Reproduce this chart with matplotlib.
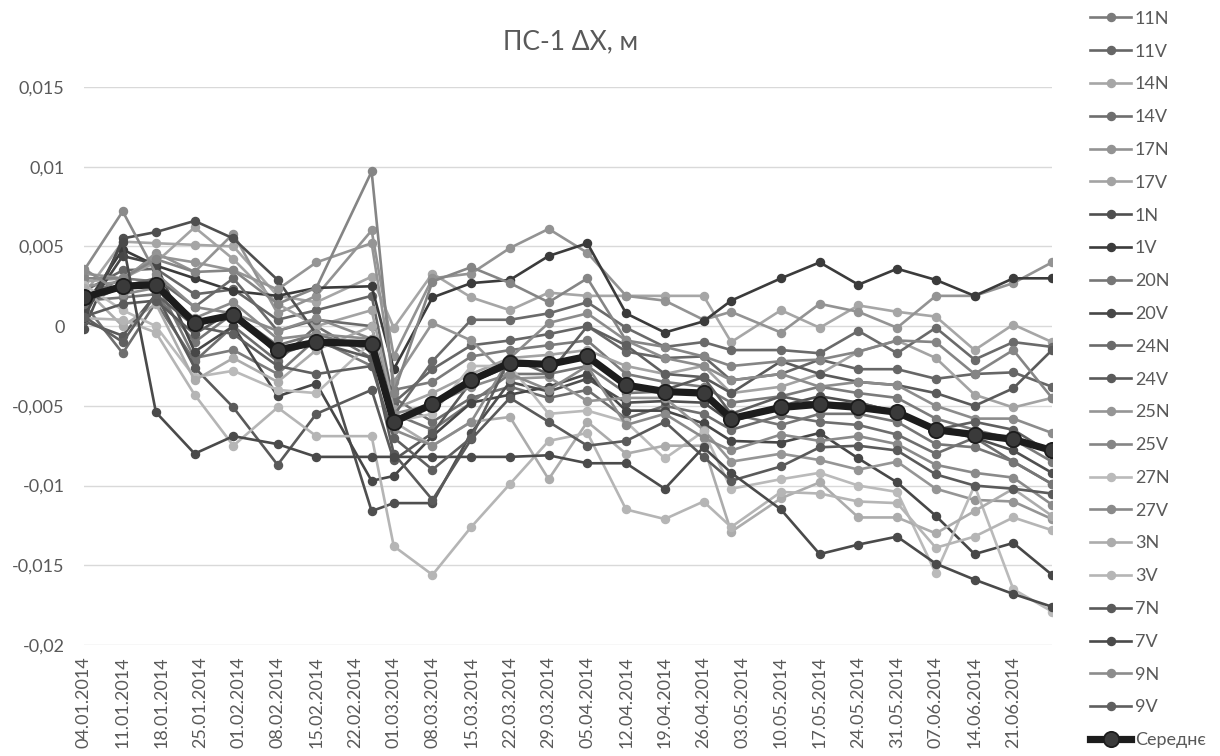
import matplotlib
matplotlib.use("Agg")
import matplotlib.pyplot as plt
import pandas as pd

# measurement dates (points) and weekly axis labels
dates = ["04.01.2014", "11.01.2014", "17.01.2014", "24.01.2014", "31.01.2014",
         "08.02.2014", "15.02.2014", "25.02.2014", "01.03.2014", "08.03.2014",
         "15.03.2014", "22.03.2014", "29.03.2014", "05.04.2014", "12.04.2014",
         "19.04.2014", "26.04.2014", "01.05.2014", "10.05.2014", "17.05.2014",
         "24.05.2014", "31.05.2014", "07.06.2014", "14.06.2014", "21.06.2014",
         "28.06.2014"]
tick_labels = ["04.01.2014", "11.01.2014", "18.01.2014", "25.01.2014", "01.02.2014",
               "08.02.2014", "15.02.2014", "22.02.2014", "01.03.2014", "08.03.2014",
               "15.03.2014", "22.03.2014", "29.03.2014", "05.04.2014", "12.04.2014",
               "19.04.2014", "26.04.2014", "03.05.2014", "10.05.2014", "17.05.2014",
               "24.05.2014", "31.05.2014", "07.06.2014", "14.06.2014", "21.06.2014"]

s_11N = [0.0018, 0.0030, 0.0028, -0.0020, -0.0015, -0.0030, -0.0008, -0.0025, -0.0040, -0.0035, -0.0019, -0.0015, -0.0012,
         -0.0009, -0.0030, -0.0035, -0.0038, -0.0048, -0.0044, -0.0038, -0.0042, -0.0045, -0.0058, -0.0065, -0.0071, -0.0085]
s_11V = [0.0022, 0.0035, 0.0036, 0.0020, 0.0023, 0.0004, 0.0010, 0.0019, -0.0048, -0.0027, -0.0012, -0.0009, -0.0005,
         0.0000, -0.0016, -0.0020, -0.0019, -0.0034, -0.0030, -0.0021, -0.0027, -0.0027, -0.0033, -0.0030, -0.0029, -0.0038]
s_14N = [0.0020, 0.0053, 0.0052, 0.0051, 0.0050, 0.0019, 0.0015, 0.0031, -0.0001, 0.0033, 0.0018, 0.0010, 0.0021,
         0.0019, 0.0019, 0.0019, 0.0019, -0.0010, 0.0010, -0.0001, 0.0013, 0.0009, 0.0006, -0.0015, 0.0001, -0.0010]
s_14V = [0.0014, -0.0017, 0.0015, -0.0022, 0.0000, -0.0022, 0.0000, -0.0020, -0.0045, -0.0060, -0.0045, -0.0038, -0.0045,
         -0.0040, -0.0058, -0.0050, -0.0055, -0.0065, -0.0056, -0.0060, -0.0062, -0.0068, -0.0080, -0.0070, -0.0085, -0.0099]
s_17N = [0.0025, 0.0028, 0.0046, 0.0034, 0.0058, 0.0008, 0.0019, 0.0060, -0.0019, 0.0030, 0.0033, 0.0049, 0.0061,
         0.0046, 0.0019, 0.0016, 0.0004, 0.0009, -0.0004, 0.0014, 0.0009, -0.0001, 0.0019, 0.0019, 0.0027, 0.0040]
s_17V = [0.0028, 0.0030, 0.0040, 0.0062, 0.0042, 0.0014, 0.0000, 0.0010, -0.0052, -0.0042, -0.0030, -0.0020, -0.0018,
         -0.0015, -0.0025, -0.0030, -0.0025, -0.0042, -0.0038, -0.0030, -0.0016, -0.0009, -0.0020, -0.0043, -0.0051, -0.0045]
s_1N = [-0.0002, 0.0055, 0.0059, 0.0066, 0.0055, 0.0029, -0.0005, -0.0116, -0.0111, -0.0111, -0.0067, -0.0035, -0.0041,
        -0.0033, -0.0048, -0.0047, -0.0048, -0.0060, -0.0050, -0.0044, -0.0048, -0.0054, -0.0065, -0.0070, -0.0078, -0.0092]
s_1V = [0.0012, 0.0048, 0.0038, 0.0030, 0.0022, 0.0019, 0.0024, 0.0025, -0.0027, 0.0018, 0.0027, 0.0029, 0.0044,
        0.0052, 0.0008, -0.0004, 0.0003, 0.0016, 0.0030, 0.0040, 0.0026, 0.0036, 0.0029, 0.0019, 0.0030, 0.0030]
s_20N = [0.0016, 0.0018, 0.0020, -0.0010, 0.0008, -0.0012, -0.0005, -0.0015, -0.0055, -0.0065, -0.0048, -0.0030, -0.0030,
         -0.0025, -0.0042, -0.0041, -0.0042, -0.0055, -0.0062, -0.0055, -0.0055, -0.0060, -0.0074, -0.0076, -0.0085, -0.0099]
s_20V = [0.0008, 0.0044, 0.0039, -0.0016, 0.0000, -0.0044, -0.0036, -0.0097, -0.0094, -0.0069, -0.0048, -0.0043, -0.0038,
         -0.0030, -0.0053, -0.0053, -0.0061, -0.0072, -0.0073, -0.0067, -0.0083, -0.0098, -0.0119, -0.0143, -0.0136, -0.0156]
s_24N = [0.0014, 0.0025, 0.0030, 0.0012, 0.0030, -0.0003, 0.0004, 0.0000, -0.0056, -0.0022, 0.0004, 0.0004, 0.0008,
         0.0015, -0.0001, -0.0013, -0.0010, -0.0015, -0.0015, -0.0017, -0.0003, -0.0017, -0.0001, -0.0021, -0.0010, -0.0013]
s_24V = [0.0003, -0.0006, 0.0020, -0.0026, -0.0051, -0.0087, -0.0055, -0.0040, -0.0084, -0.0067, -0.0035, -0.0025, -0.0024,
         -0.0020, -0.0037, -0.0040, -0.0032, -0.0042, -0.0022, -0.0030, -0.0035, -0.0037, -0.0042, -0.0050, -0.0039, -0.0015]
s_25N = [0.0033, 0.0030, 0.0044, 0.0040, 0.0035, 0.0023, 0.0040, 0.0052, -0.0035, 0.0002, -0.0009, -0.0033, -0.0032,
         -0.0047, -0.0045, -0.0045, -0.0065, -0.0085, -0.0080, -0.0084, -0.0090, -0.0085, -0.0102, -0.0109, -0.0110, -0.0121]
s_25V = [0.0030, 0.0030, 0.0042, 0.0034, 0.0035, 0.0014, 0.0024, 0.0097, -0.0042, 0.0028, 0.0037, 0.0027, 0.0015,
         0.0030, -0.0009, -0.0013, -0.0019, -0.0025, -0.0022, -0.0021, -0.0016, -0.0009, -0.0010, -0.0030, -0.0015, -0.0045]
s_27N = [0.0026, 0.0010, 0.0000, -0.0032, -0.0028, -0.0040, -0.0042, -0.0010, -0.0060, -0.0055, -0.0025, -0.0025, -0.0055,
         -0.0053, -0.0060, -0.0083, -0.0066, -0.0102, -0.0096, -0.0092, -0.0100, -0.0104, -0.0155, -0.0100, -0.0165, -0.0179]
s_27V = [0.0035, 0.0072, 0.0033, 0.0012, 0.0008, -0.0003, 0.0005, -0.0008, -0.0055, -0.0049, -0.0038, -0.0030, -0.0040,
         -0.0025, -0.0062, -0.0055, -0.0070, -0.0078, -0.0068, -0.0072, -0.0069, -0.0074, -0.0087, -0.0092, -0.0095, -0.0112]
s_3N = [0.0024, 0.0000, 0.0014, -0.0034, -0.0020, -0.0035, -0.0015, 0.0000, -0.0060, -0.0075, -0.0060, -0.0057, -0.0096,
        -0.0060, -0.0080, -0.0075, -0.0075, -0.0129, -0.0108, -0.0098, -0.0120, -0.0120, -0.0130, -0.0116, -0.0102, -0.0119]
s_3V = [0.0005, 0.0004, -0.0004, -0.0043, -0.0075, -0.0051, -0.0069, -0.0069, -0.0138, -0.0156, -0.0126, -0.0099, -0.0072,
        -0.0067, -0.0115, -0.0121, -0.0110, -0.0126, -0.0104, -0.0105, -0.0110, -0.0111, -0.0139, -0.0132, -0.0120, -0.0128]
s_7N = [0.0006, 0.0014, 0.0016, -0.0005, 0.0010, -0.0018, -0.0010, -0.0020, -0.0080, -0.0109, -0.0071, -0.0045, -0.0060,
        -0.0075, -0.0072, -0.0060, -0.0082, -0.0097, -0.0088, -0.0076, -0.0075, -0.0078, -0.0093, -0.0100, -0.0102, -0.0105]
s_7V = [0.0005, 0.0053, -0.0054, -0.0080, -0.0069, -0.0074, -0.0082, -0.0082, -0.0082, -0.0082, -0.0082, -0.0082, -0.0081,
        -0.0086, -0.0086, -0.0102, -0.0076, -0.0092, -0.0115, -0.0143, -0.0137, -0.0132, -0.0149, -0.0159, -0.0168, -0.0176]
s_9N = [0.0036, 0.0020, 0.0024, 0.0005, 0.0015, -0.0008, -0.0005, -0.0008, -0.0065, -0.0075, -0.0060, -0.0020, 0.0002,
        0.0008, -0.0009, -0.0020, -0.0025, -0.0034, -0.0030, -0.0038, -0.0035, -0.0037, -0.0050, -0.0058, -0.0058, -0.0067]
s_9V = [0.0006, -0.0010, 0.0020, 0.0000, -0.0005, -0.0025, -0.0030, -0.0025, -0.0070, -0.0090, -0.0070, -0.0020, -0.0030,
        0.0000, -0.0012, -0.0030, -0.0032, -0.0055, -0.0044, -0.0049, -0.0048, -0.0054, -0.0065, -0.0060, -0.0065, -0.0080]
mean = [0.0018, 0.0025, 0.0026, 0.0002, 0.0007, -0.0015, -0.0010, -0.0011, -0.0060, -0.0049, -0.0034, -0.0023, -0.0024,
        -0.0019, -0.0037, -0.0041, -0.0042, -0.0058, -0.0051, -0.0049, -0.0051, -0.0054, -0.0065, -0.0068, -0.0071, -0.0078]

names = ["11N", "11V", "14N", "14V", "17N", "17V", "1N", "1V", "20N", "20V", "24N",
         "24V", "25N", "25V", "27N", "27V", "3N", "3V", "7N", "7V", "9N", "9V"]
series = [s_11N, s_11V, s_14N, s_14V, s_17N, s_17V, s_1N, s_1V, s_20N, s_20V, s_24N,
          s_24V, s_25N, s_25V, s_27N, s_27V, s_3N, s_3V, s_7N, s_7V, s_9N, s_9V]
colors = ["#7b7b7b", "#666666", "#a6a6a6", "#6e6e6e", "#939393", "#a3a3a3", "#4f4f4f",
          "#3b3b3b", "#767676", "#474747", "#6a6a6a", "#5a5a5a", "#959595", "#858585",
          "#bababa", "#8a8a8a", "#acacac", "#b5b5b5", "#5a5a5a", "#4a4a4a", "#8c8c8c", "#5f5f5f"]

plt.rcParams["font.family"] = ["Lato", "DejaVu Sans"]
text_col = "#595959"

x = pd.to_datetime(dates, format="%d.%m.%Y")
ticks = pd.to_datetime(tick_labels, format="%d.%m.%Y")

fig = plt.figure(figsize=(12.2, 7.56), dpi=100)
ax = fig.add_axes([84 / 1220, 1 - 645 / 756, (1052 - 84) / 1220, (645 - 87) / 756])

for name, vals, c in zip(names, series, colors):
    ax.plot(x, vals, color=c, lw=1.9, marker="o", ms=5.8, mfc=c, mec=c, label=name, zorder=2)
ax.plot(x, mean, color="#1c1c1c", lw=5.2, marker="o", ms=11, mfc="#3a3a3a", mec="#1c1c1c",
        mew=1.3, label="Середнє", zorder=3)

ax.set_xlim(x[0], x[-1])
ax.set_ylim(-0.02, 0.015)
ax.set_yticks([-0.02, -0.015, -0.01, -0.005, 0, 0.005, 0.01, 0.015])
ax.set_yticklabels(["-0,02", "-0,015", "-0,01", "-0,005", "0", "0,005", "0,01", "0,015"])
ax.set_xticks(ticks)
ax.set_xticklabels(tick_labels, rotation=90)
ax.tick_params(axis="y", length=0, colors=text_col, labelsize=13, pad=14)
ax.tick_params(axis="x", length=0, colors=text_col, labelsize=13, pad=8)
ax.grid(axis="y", color="#d9d9d9", lw=1)
ax.set_axisbelow(True)
for sp in ax.spines.values():
    sp.set_visible(False)

fig.text(571 / 1220, 1 - 42 / 756, "ПС-1 ΔX, м", ha="center", va="center",
         fontsize=19, color=text_col)

fig.legend(loc="upper left", bbox_to_anchor=(1088 / 1220, 1 - 9 / 756), frameon=False,
           fontsize=13, labelcolor=text_col, handlelength=2.3, handletextpad=0.2,
           labelspacing=0.93, borderpad=0.1, borderaxespad=0)

fig.savefig("out.png", dpi=100, facecolor="white")
